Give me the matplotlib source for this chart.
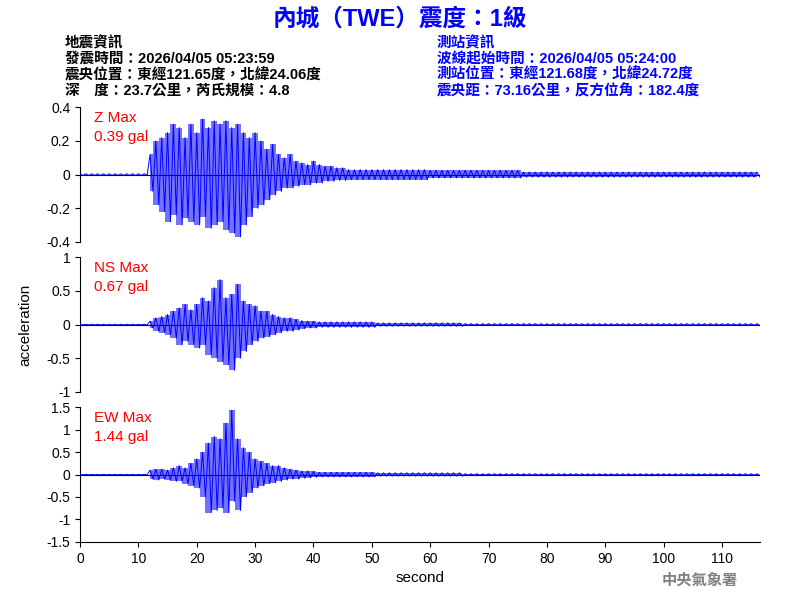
import matplotlib
matplotlib.use("Agg")
import matplotlib.pyplot as plt
import numpy as np

plt.rcParams['font.family'] = ['Liberation Sans', 'Noto Sans CJK TC', 'DejaVu Sans']

seconds = list(range(117))
z_pos = [0.005]*12 + [0.12,0.2,0.22,0.25,0.3,0.28,0.22,0.3,0.25,0.33,0.28,0.32,0.3,0.32,0.28,0.3,0.25,0.22,0.25,0.2,0.15,0.18,0.12,0.1,0.12,0.08,0.07,0.06,0.08,0.06,0.05,0.05,0.04,0.04] + [0.03]*14 + [0.025]*16 + [0.015]*41
z_neg = [-0.005]*12 + [-0.1,-0.18,-0.22,-0.28,-0.24,-0.3,-0.26,-0.28,-0.3,-0.25,-0.32,-0.3,-0.28,-0.33,-0.35,-0.37,-0.3,-0.25,-0.2,-0.18,-0.15,-0.12,-0.1,-0.08,-0.08,-0.07,-0.06,-0.06,-0.05,-0.05,-0.04,-0.04,-0.035,-0.035] + [-0.03]*14 + [-0.02]*16 + [-0.015]*41
ns_pos = [0.005]*12 + [0.05,0.1,0.12,0.15,0.2,0.25,0.3,0.22,0.3,0.4,0.35,0.55,0.67,0.4,0.45,0.6,0.35,0.3,0.28,0.2,0.2,0.15,0.12,0.1,0.1,0.08,0.06,0.05,0.05] + [0.04]*10 + [0.025]*15 + [0.015]*51
ns_neg = [-0.005]*12 + [-0.05,-0.1,-0.12,-0.15,-0.2,-0.3,-0.25,-0.3,-0.35,-0.3,-0.45,-0.5,-0.55,-0.6,-0.68,-0.5,-0.4,-0.3,-0.25,-0.2,-0.18,-0.15,-0.12,-0.1,-0.1,-0.08,-0.06,-0.05,-0.05] + [-0.04]*10 + [-0.025]*15 + [-0.015]*51
ew_pos = [0.005]*12 + [0.1,0.12,0.12,0.1,0.15,0.2,0.15,0.25,0.35,0.5,0.7,0.85,0.8,1.15,1.44,0.8,0.6,0.5,0.35,0.3,0.25,0.2,0.2,0.15,0.12,0.1,0.08,0.08,0.07] + [0.05]*10 + [0.04]*15 + [0.02]*51
ew_neg = [-0.005]*12 + [-0.1,-0.12,-0.1,-0.12,-0.15,-0.15,-0.2,-0.25,-0.3,-0.5,-0.85,-0.8,-0.75,-0.85,-0.6,-0.8,-0.5,-0.4,-0.3,-0.25,-0.2,-0.18,-0.15,-0.12,-0.1,-0.1,-0.08,-0.07,-0.06] + [-0.05]*10 + [-0.035]*15 + [-0.02]*51

panels = [
    ("Z Max\n0.39 gal", z_pos, z_neg, 0.4, [-0.4,-0.2,0,0.2,0.4], ["-0.4","-0.2","0","0.2","0.4"]),
    ("NS Max\n0.67 gal", ns_pos, ns_neg, 1.0, [-1,-0.5,0,0.5,1], ["-1","-0.5","0","0.5","1"]),
    ("EW Max\n1.44 gal", ew_pos, ew_neg, 1.5, [-1.5,-1,-0.5,0,0.5,1,1.5], ["-1.5","-1","-0.5","0","0.5","1","1.5"]),
]
bottoms = [0.597, 0.347, 0.097]

fig = plt.figure(figsize=(8, 6), dpi=100)
for i, (lab, pos, neg, lim, yt, ytl) in enumerate(panels):
    ax = fig.add_axes([0.1, bottoms[i], 0.85, 0.224])
    t = np.array(seconds, dtype=float)
    p = np.array(pos); n = np.array(neg)
    ax.axhline(0, color='black', lw=0.8, zorder=1)
    m = t >= 11.5
    ax.fill_between(t[m], n[m], p[m], color='blue', alpha=0.55, lw=0, step='mid', zorder=2)
    tt = np.empty(2*len(t)); vv = np.empty(2*len(t))
    tt[0::2] = t; tt[1::2] = t + 0.5
    vv[0::2] = p; vv[1::2] = n
    ax.plot(tt, vv, color='blue', lw=0.7, zorder=3)
    ax.set_xlim(0, 116.5)
    ax.set_ylim(-lim, lim)
    ax.set_yticks(yt)
    ax.set_yticklabels(ytl, fontsize=10)
    ax.spines['top'].set_visible(False)
    ax.spines['right'].set_visible(False)
    ax.text(0.02, 0.97, lab, transform=ax.transAxes, color='red', fontsize=11, va='top', linespacing=1.4)
    if i < 2:
        ax.spines['bottom'].set_visible(False)
        ax.set_xticks([])
    else:
        ax.set_xticks(range(0, 120, 10))
        ax.tick_params(axis='x', labelsize=10)
        ax.set_xlabel("second", fontsize=11)
    if i == 1:
        ax.set_ylabel("acceleration", fontsize=11)
        ax.yaxis.set_label_coords(-0.07, 0.5)

fig.text(0.5, 0.968, "內城（TWE）震度：1級", color='blue', fontsize=17, fontweight='bold', ha='center', va='center')
left = ["地震資訊", "發震時間：2026/04/05 05:23:59", "震央位置：東經121.65度，北緯24.06度", "深　度：23.7公里，芮氏規模：4.8"]
right = ["測站資訊", "波線起始時間：2026/04/05 05:24:00", "測站位置：東經121.68度，北緯24.72度", "震央距：73.16公里，反方位角：182.4度"]
for k, s in enumerate(left):
    fig.text(65/800, 1-(43+16*k)/600, s, fontsize=10.5, color='black', va='center', fontweight='bold')
for k, s in enumerate(right):
    fig.text(437/800, 1-(43+16*k)/600, s, fontsize=10.5, color='blue', va='center', fontweight='bold')
fig.text(700/800, 1-580/600, "中央氣象署", fontsize=11, color='gray', ha='center', va='center', fontweight='bold')
fig.savefig("out.png", dpi=100)
